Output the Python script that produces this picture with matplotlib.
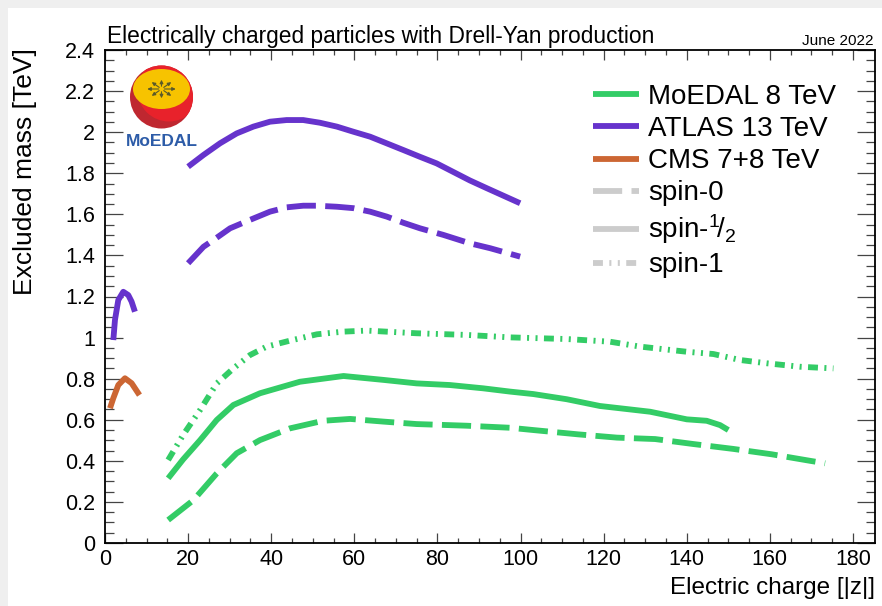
import matplotlib
matplotlib.use("Agg")
import matplotlib.pyplot as plt
from matplotlib.lines import Line2D
from matplotlib.patches import Circle, Ellipse, Rectangle
import numpy as np

plt.rcParams['font.family'] = ['Liberation Sans', 'DejaVu Sans']
plt.rcParams['mathtext.fontset'] = 'custom'
plt.rcParams['mathtext.rm'] = 'Liberation Sans'
plt.rcParams['mathtext.it'] = 'Liberation Sans:italic'

# MoEDAL 8 TeV
moedal_s0_z = [15.2, 21.3, 26.9, 31.7, 37.3, 44.5, 52.5, 59, 67, 75, 87, 97.5,
               103, 113.8, 123.2, 132.4, 141.5, 151.2, 160.4, 169.7, 173.3]
moedal_s0_m = [0.112, 0.209, 0.339, 0.437, 0.501, 0.558, 0.595, 0.604, 0.591, 0.579, 0.571, 0.561,
               0.55, 0.529, 0.513, 0.506, 0.482, 0.458, 0.432, 0.40, 0.388]
moedal_s12_z = [15.2, 18.8, 22.9, 26.9, 30.9, 37.3, 46.9, 57.4, 67, 75, 83, 91, 97.5,
                103.1, 111.1, 119.1, 125.6, 131.2, 140, 144.8, 148, 150]
moedal_s12_m = [0.315, 0.407, 0.501, 0.599, 0.672, 0.729, 0.785, 0.813, 0.794, 0.777, 0.769, 0.753, 0.737,
                0.725, 0.70, 0.667, 0.652, 0.639, 0.602, 0.595, 0.574, 0.55]
moedal_s1_z = [15.2, 18.8, 22.9, 26.9, 30.9, 34.9, 38.9, 44.5, 51, 57.4, 63, 75, 87, 97.5,
               111.1, 121.5, 128.8, 140, 146.4, 152.8, 159.2, 167.3, 175.3]
moedal_s1_m = [0.404, 0.526, 0.648, 0.777, 0.85, 0.915, 0.956, 0.985, 1.016, 1.029, 1.034, 1.021, 1.013, 1.001,
               0.993, 0.98, 0.956, 0.931, 0.92, 0.891, 0.875, 0.858, 0.85]

# ATLAS 13 TeV
atlas_s0_z = [20, 23.7, 26.1, 30.1, 34.9, 39.7, 43.7, 47.7, 51, 55.8, 59.8, 63.8, 67.8, 71.8,
              75.8, 81.4, 87.8, 92.7, 99.9]
atlas_s0_m = [1.362, 1.442, 1.475, 1.532, 1.573, 1.613, 1.634, 1.642, 1.642, 1.637, 1.63, 1.613, 1.589, 1.559,
              1.532, 1.50, 1.459, 1.435, 1.394]
atlas_s12_z = [20, 23.7, 27.7, 31.7, 35.7, 39.7, 43.7, 47.7, 51.7, 55.8, 59.8, 63.8, 71.8, 75.8,
               79.8, 87.8, 91.9, 99.9]
atlas_s12_m = [1.832, 1.889, 1.946, 1.994, 2.027, 2.051, 2.059, 2.059, 2.046, 2.027, 2.002, 1.978, 1.913, 1.88,
               1.848, 1.765, 1.727, 1.654]
atlas_low_z = [2.0, 2.4, 3.2, 4.4, 5.6, 6.4, 7.2]
atlas_low_m = [0.988, 1.086, 1.183, 1.223, 1.207, 1.175, 1.126]

# CMS 7+8 TeV
cms_z = [1.2, 2.0, 3.2, 4.8, 6.4, 8.3]
cms_m = [0.656, 0.705, 0.769, 0.802, 0.778, 0.72]

green = '#33cc66'
purple = '#6633cc'
orange = '#cc6633'
gray = '#cccccc'
lw = 4.2
dash_s0 = (0, (5, 1.6))
dash_s1 = (0, (1.7, 1.1, 0.35, 1.1, 0.35, 1.1))

W, H = 882, 606
fig = plt.figure(figsize=(W / 100, H / 100), dpi=100, facecolor='#efefef')
fig.patches.append(Rectangle((8 / W, 0), 1 - 8 / W, 1 - 8 / H, transform=fig.transFigure,
                             facecolor='white', edgecolor='none', zorder=-10))

ax = fig.add_axes([105 / W, 1 - 543 / H, 770 / W, 493 / H])
ax.set_facecolor('white')

kw = dict(lw=lw, solid_capstyle='butt', dash_capstyle='butt', solid_joinstyle='round')
ax.plot(moedal_s1_z, moedal_s1_m, color=green, ls=dash_s1, **kw)
ax.plot(moedal_s12_z, moedal_s12_m, color=green, ls='-', **kw)
ax.plot(moedal_s0_z, moedal_s0_m, color=green, ls=dash_s0, **kw)
ax.plot(atlas_s12_z, atlas_s12_m, color=purple, ls='-', **kw)
ax.plot(atlas_s0_z, atlas_s0_m, color=purple, ls=dash_s0, **kw)
ax.plot(atlas_low_z, atlas_low_m, color=purple, ls='-', **kw)
ax.plot(cms_z, cms_m, color=orange, ls='-', **kw)

ax.set_xlim(0, 185.3)
ax.set_ylim(0, 2.4)
ax.set_xticks(np.arange(0, 181, 20))
ax.set_xticks(np.arange(0, 185, 5), minor=True)
ax.set_yticks(np.arange(0, 2.41, 0.2))
ax.set_yticks(np.arange(0, 2.41, 0.05), minor=True)
ax.set_yticklabels(['0', '0.2', '0.4', '0.6', '0.8', '1', '1.2', '1.4', '1.6', '1.8', '2', '2.2', '2.4'])
ax.tick_params(axis='both', which='both', direction='in', top=True, right=True, color='#444444', width=0.9)
ax.tick_params(axis='x', which='major', length=7.5, labelsize=15.5, pad=4)
ax.tick_params(axis='x', which='minor', length=3.8)
ax.tick_params(axis='y', which='major', length=13, labelsize=15.5, pad=7)
ax.tick_params(axis='y', which='minor', length=6.5)
for s in ax.spines.values():
    s.set_linewidth(1.3)

ax.set_xlabel('Electric charge [|z|]', fontsize=17.5, ha='right')
ax.xaxis.set_label_coords(1.0, -0.068)
ax.set_ylabel('Excluded mass [TeV]', fontsize=19, ha='right')
ax.yaxis.set_label_coords(-0.088, 1.004)

fig.text(107 / W, 1 - 43 / H, 'Electrically charged particles with Drell-Yan production',
         fontsize=16.35, va='baseline', ha='left')
fig.text(874 / W, 1 - 45 / H, 'June 2022', fontsize=11, va='baseline', ha='right')

handles = [Line2D([], [], color=green, lw=lw, solid_capstyle='butt'),
           Line2D([], [], color=purple, lw=lw, solid_capstyle='butt'),
           Line2D([], [], color=orange, lw=lw, solid_capstyle='butt'),
           Line2D([], [], color=gray, lw=lw, ls=dash_s0, dash_capstyle='butt'),
           Line2D([], [], color=gray, lw=lw, solid_capstyle='butt'),
           Line2D([], [], color=gray, lw=lw, ls=dash_s1, dash_capstyle='butt')]
labels = ['MoEDAL 8 TeV', 'ATLAS 13 TeV', 'CMS 7+8 TeV', 'spin-0',
          r'spin-$^{1}\!/_{2}$', 'spin-1']
ax.legend(handles, labels, loc='upper left', bbox_to_anchor=((593 - 105) / 770, (543 - 84) / 493),
          frameon=False, fontsize=20, handlelength=1.65, handletextpad=0.32,
          labelspacing=0.22, borderpad=0, borderaxespad=0)

# MoEDAL logo, drawn in pixel units
lg = fig.add_axes([128 / W, 1 - 150 / H, 68 / W, 86 / H])
lg.set_xlim(0, 68)
lg.set_ylim(86, 0)
lg.set_aspect('equal')
lg.axis('off')
base = Circle((33.5, 33), 31.5, facecolor='#bf2730', edgecolor='none')
lg.add_patch(base)
bright = Circle((41, 26), 31.5, facecolor='#e8222b', edgecolor='none')
lg.add_patch(bright)
bright.set_clip_path(base)
yel = Ellipse((33.5, 25), 57, 40, facecolor='#f7c300', edgecolor='none')
lg.add_patch(yel)
yel.set_clip_path(base)
for ang in np.arange(0, 360, 45):
    dx = 17 * np.cos(np.radians(ang))
    dy = 12 * np.sin(np.radians(ang))
    lg.annotate('', xy=(33.5 + dx, 25 + dy), xytext=(33.5, 25),
                arrowprops=dict(arrowstyle='-|>', color='#5a5a2a', lw=0.8, mutation_scale=5))
lg.text(33.5, 78, 'MoEDAL', color='#2d5ca8', fontsize=12.5, fontweight='bold',
        ha='center', va='center')

fig.savefig('out.png', dpi=100, facecolor=fig.get_facecolor())
